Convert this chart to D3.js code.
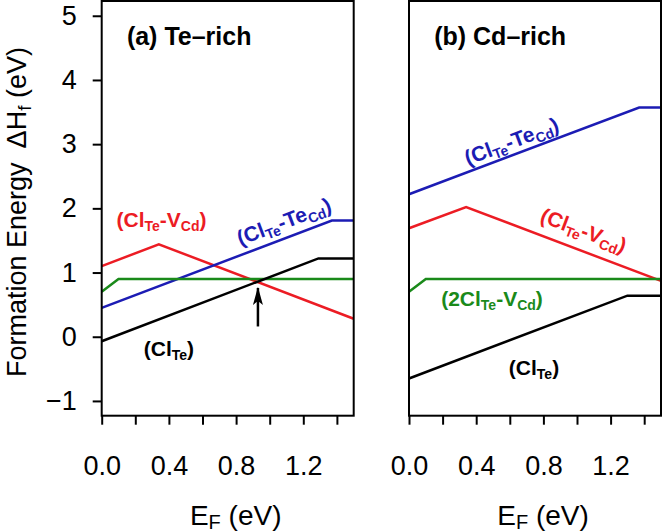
<!DOCTYPE html>
<html>
<head>
<meta charset="utf-8">
<script src="https://cdn.jsdelivr.net/npm/d3@7"></script>
<style>
  body { margin: 0; background: #fff; }
  text { font-family: "Liberation Sans", Arial, Helvetica, sans-serif; }
</style>
</head>
<body>
<div id="chart"></div>
<script>
// Fermi level ticks (eV) and formation energy ticks (eV)
var xTicks = [0, 0.2, 0.4, 0.6, 0.8, 1.0, 1.2, 1.4];
var xTickLabels = [0, 0.4, 0.8, 1.2];
var yTicks = [-1, 0, 1, 2, 3, 4, 5];

// (a) Te-rich : vertices of each defect line (E_F, dH_f)
var aClTeE = [0, 1.29, 1.5],       aClTeH = [-0.07, 1.22, 1.22];
var aClTeVcdE = [0, 0.34, 1.5],    aClTeVcdH = [1.10, 1.44, 0.28];
var aClTeTeCdE = [0, 1.37, 1.5],   aClTeTeCdH = [0.45, 1.81, 1.81];
var a2ClTeVcdE = [0, 0.10, 1.5],   a2ClTeVcdH = [0.70, 0.90, 0.90];

// (b) Cd-rich
var bClTeE = [0, 1.30, 1.5],       bClTeH = [-0.65, 0.64, 0.64];
var bClTeVcdE = [0, 0.34, 1.5],    bClTeVcdH = [1.69, 2.02, 0.87];
var bClTeTeCdE = [0, 1.37, 1.5],   bClTeTeCdH = [2.22, 3.57, 3.57];
var b2ClTeVcdE = [0, 0.10, 1.5],   b2ClTeVcdH = [0.70, 0.90, 0.90];

// arrow marking the crossing in (a)
var arrowE = 0.93, arrowH = [0.16, 0.76];

var colors = { clte: "#000000", vcd: "#ec1c24", tecd: "#1c1cb4", twocl: "#1a8a1a" };

// label text pieces: [string, isSubscript]
var lblClTe = [["(Cl", 0], ["Te", 1], [")", 0]];
var lblVcd = [["(Cl", 0], ["Te", 1], ["-V", 0], ["Cd", 1], [")", 0]];
var lblTeCd = [["(Cl", 0], ["Te", 1], ["-Te", 0], ["Cd", 1], [")", 0]];
var lbl2Cl = [["(2Cl", 0], ["Te", 1], ["-V", 0], ["Cd", 1], [")", 0]];

var width = 663, height = 532;
var panelW = 252;

var yScale = d3.scaleLinear().domain([-1.23, 5.23]).range([415.7, 1]);

var panels = [
  {
    x0: 101.7, title: "(a) Te\u2013rich", showY: true, arrow: true,
    lines: [
      { e: aClTeVcdE, h: aClTeVcdH, c: colors.vcd },
      { e: aClTeTeCdE, h: aClTeTeCdH, c: colors.tecd },
      { e: a2ClTeVcdE, h: a2ClTeVcdH, c: colors.twocl },
      { e: aClTeE, h: aClTeH, c: colors.clte }
    ],
    labels: [
      { parts: lblVcd, c: colors.vcd, e: 0.356, h: 1.71, line: 0, seg: -1 },
      { parts: lblTeCd, c: colors.tecd, e: 1.10, h: 1.69, line: 1, seg: 0 },
      { parts: lblClTe, c: colors.clte, e: 0.40, h: -0.30, line: 3, seg: -1 }
    ]
  },
  {
    x0: 409, title: "(b) Cd\u2013rich", showY: false, arrow: false,
    lines: [
      { e: bClTeVcdE, h: bClTeVcdH, c: colors.vcd },
      { e: bClTeTeCdE, h: bClTeTeCdH, c: colors.tecd },
      { e: b2ClTeVcdE, h: b2ClTeVcdH, c: colors.twocl },
      { e: bClTeE, h: bClTeH, c: colors.clte }
    ],
    labels: [
      { parts: lblTeCd, c: colors.tecd, e: 0.625, h: 2.94, line: 1, seg: 0 },
      { parts: lblVcd, c: colors.vcd, e: 1.024, h: 1.55, line: 0, seg: 1 },
      { parts: lbl2Cl, c: colors.twocl, e: 0.494, h: 0.48, line: 2, seg: -1 },
      { parts: lblClTe, c: colors.clte, e: 0.744, h: -0.60, line: 3, seg: -1 }
    ]
  }
];

var svg = d3.select("#chart").append("svg")
  .attr("width", width)
  .attr("height", height);

var defs = svg.append("defs");
defs.append("marker")
  .attr("id", "head")
  .attr("viewBox", "0 0 18 10")
  .attr("refX", 17).attr("refY", 5)
  .attr("markerWidth", 18).attr("markerHeight", 10)
  .attr("markerUnits", "userSpaceOnUse")
  .attr("orient", "auto")
  .append("path")
  .attr("d", "M0,0 L18,5 L0,10 L4,5 Z")
  .attr("fill", "#000");

panels.forEach(function(p) {
  var xScale = d3.scaleLinear().domain([0, 1.5]).range([p.x0, p.x0 + panelW]);
  var g = svg.append("g");

  var line = d3.line()
    .x(function(d) { return xScale(d[0]); })
    .y(function(d) { return yScale(d[1]); });

  // defect lines
  p.lines.forEach(function(l) {
    g.append("path")
      .datum(d3.zip(l.e, l.h))
      .attr("fill", "none")
      .attr("stroke", l.c)
      .attr("stroke-width", 2.5)
      .attr("d", line);
  });

  // frame
  g.append("rect")
    .attr("x", p.x0).attr("y", yScale.range()[1])
    .attr("width", panelW)
    .attr("height", yScale.range()[0] - yScale.range()[1])
    .attr("fill", "none")
    .attr("stroke", "#000")
    .attr("stroke-width", 2);

  // x ticks
  var xt = g.append("g")
    .attr("transform", "translate(0," + yScale.range()[0] + ")")
    .call(d3.axisBottom(xScale).tickValues(xTicks).tickSize(9).tickFormat(""));
  xt.select(".domain").remove();
  xt.selectAll("line").attr("stroke-width", 2);

  // x tick labels
  var xl = g.append("g")
    .attr("transform", "translate(0," + yScale.range()[0] + ")")
    .call(d3.axisBottom(xScale).tickValues(xTickLabels).tickSize(0).tickPadding(40).tickFormat(d3.format(".1f")));
  xl.select(".domain").remove();
  xl.selectAll("text")
    .attr("fill", "#000")
    .style("font-family", "\"Liberation Sans\", Arial, sans-serif")
    .style("font-size", "27px");

  // x title
  var xtitle = g.append("text")
    .attr("x", p.x0 + panelW / 2 + 8)
    .attr("y", 525)
    .attr("text-anchor", "middle")
    .style("font-size", "28px");
  xtitle.append("tspan").text("E");
  xtitle.append("tspan").attr("dy", 4).style("font-size", "20px").text("F");
  xtitle.append("tspan").attr("dy", -4).text(" (eV)");

  if (p.showY) {
    var ya = g.append("g")
      .attr("transform", "translate(" + p.x0 + ",0)")
      .call(d3.axisLeft(yScale).tickValues(yTicks).tickSize(9).tickPadding(16)
        .tickFormat(function(d) { return d < 0 ? "\u2212" + Math.abs(d) : d; }));
    ya.select(".domain").remove();
    ya.selectAll("line").attr("stroke-width", 2);
    ya.selectAll("text")
      .attr("fill", "#000")
      .style("font-family", "\"Liberation Sans\", Arial, sans-serif")
      .style("font-size", "27px");

    var yt = svg.append("text")
      .attr("transform", "translate(26," + 212 + ") rotate(-90)")
      .attr("text-anchor", "middle")
      .style("font-size", "27px");
    yt.append("tspan").text("Formation Energy");
    yt.append("tspan").attr("dx", 14).text("\u0394H");
    yt.append("tspan").attr("dy", 5).style("font-size", "19px").text("f");
    yt.append("tspan").attr("dy", -5).text(" (eV)");
  }

  // panel title
  g.append("text")
    .attr("x", xScale(0.15))
    .attr("y", yScale(4.54))
    .style("font-size", "25px")
    .style("font-weight", "bold")
    .text(p.title);

  // defect labels
  p.labels.forEach(function(lb) {
    var angle = 0;
    if (lb.seg >= 0) {
      var l = p.lines[lb.line];
      var dx = xScale(l.e[lb.seg + 1]) - xScale(l.e[lb.seg]);
      var dy = yScale(l.h[lb.seg + 1]) - yScale(l.h[lb.seg]);
      angle = Math.atan2(dy, dx) * 180 / Math.PI;
    }
    var t = g.append("text")
      .attr("transform", "translate(" + xScale(lb.e) + "," + yScale(lb.h) + ") rotate(" + angle + ")")
      .attr("text-anchor", "middle")
      .attr("fill", lb.c)
      .style("font-weight", "bold")
      .style("font-size", "21px");
    var shift = 0;
    lb.parts.forEach(function(pt) {
      var want = pt[1] ? 4 : 0;
      t.append("tspan")
        .attr("dy", want - shift)
        .style("font-size", pt[1] ? "14px" : "21px")
        .text(pt[0]);
      shift = want;
    });
  });

  // arrow
  if (p.arrow) {
    g.append("line")
      .attr("x1", xScale(arrowE)).attr("x2", xScale(arrowE))
      .attr("y1", yScale(arrowH[0])).attr("y2", yScale(arrowH[1]))
      .attr("stroke", "#000")
      .attr("stroke-width", 2.5)
      .attr("marker-end", "url(#head)");
  }
});
</script>
</body>
</html>
